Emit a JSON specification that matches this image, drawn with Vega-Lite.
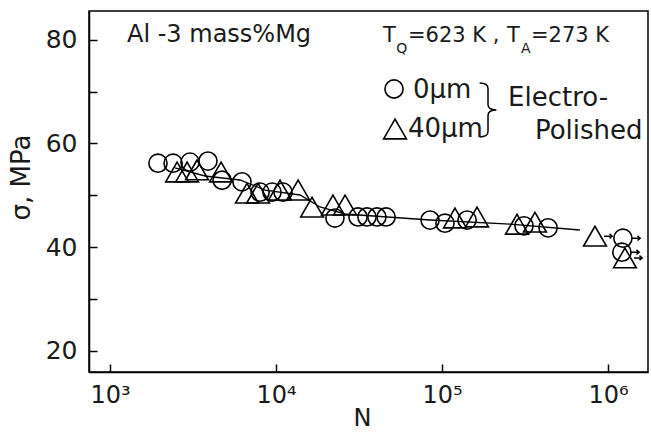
{
  "$schema": "https://vega.github.io/schema/vega-lite/v6.json",
  "width": 559,
  "height": 361,
  "autosize": {"type": "none"},
  "padding": {"left": 89, "top": 11, "right": 3, "bottom": 61},
  "background": "white",
  "config": {
    "font": "DejaVu Sans",
    "view": {"stroke": "black", "strokeWidth": 1.5},
    "axis": {"grid": false, "domainColor": "black", "domainWidth": 1.5, "tickColor": "black", "tickWidth": 1.5, "labelColor": "#1a1a1a", "titleColor": "#1a1a1a", "labelFont": "DejaVu Sans", "titleFont": "DejaVu Sans", "titleFontWeight": "normal"}
  },
  "datasets": {
    "pts": [
      {"N": 1945, "sigma": 56.2, "depth": "0μm", "runout": false},
      {"N": 2399, "sigma": 56.2, "depth": "0μm", "runout": false},
      {"N": 3033, "sigma": 56.4, "depth": "0μm", "runout": false},
      {"N": 3890, "sigma": 56.6, "depth": "0μm", "runout": false},
      {"N": 4732, "sigma": 52.9, "depth": "0μm", "runout": false},
      {"N": 6237, "sigma": 52.6, "depth": "0μm", "runout": false},
      {"N": 8017, "sigma": 50.6, "depth": "0μm", "runout": false},
      {"N": 9462, "sigma": 50.6, "depth": "0μm", "runout": false},
      {"N": 11018, "sigma": 50.6, "depth": "0μm", "runout": false},
      {"N": 22650, "sigma": 45.6, "depth": "0μm", "runout": false},
      {"N": 31190, "sigma": 45.8, "depth": "0μm", "runout": false},
      {"N": 35320, "sigma": 45.8, "depth": "0μm", "runout": false},
      {"N": 40550, "sigma": 45.8, "depth": "0μm", "runout": false},
      {"N": 46030, "sigma": 45.8, "depth": "0μm", "runout": false},
      {"N": 84700, "sigma": 45.2, "depth": "0μm", "runout": false},
      {"N": 104200, "sigma": 44.6, "depth": "0μm", "runout": false},
      {"N": 141600, "sigma": 45.2, "depth": "0μm", "runout": false},
      {"N": 311900, "sigma": 44.1, "depth": "0μm", "runout": false},
      {"N": 435500, "sigma": 43.7, "depth": "0μm", "runout": false},
      {"N": 1230000, "sigma": 41.7, "depth": "0μm", "runout": true},
      {"N": 1213000, "sigma": 39.0, "depth": "0μm", "runout": true},
      {"N": 2535, "sigma": 54.5, "depth": "40μm", "runout": false},
      {"N": 2913, "sigma": 54.5, "depth": "40μm", "runout": false},
      {"N": 3343, "sigma": 54.9, "depth": "40μm", "runout": false},
      {"N": 4665, "sigma": 54.5, "depth": "40μm", "runout": false},
      {"N": 6683, "sigma": 50.4, "depth": "40μm", "runout": false},
      {"N": 7800, "sigma": 50.4, "depth": "40μm", "runout": false},
      {"N": 10570, "sigma": 51.0, "depth": "40μm", "runout": false},
      {"N": 13590, "sigma": 51.0, "depth": "40μm", "runout": false},
      {"N": 16480, "sigma": 47.7, "depth": "40μm", "runout": false},
      {"N": 22030, "sigma": 48.1, "depth": "40μm", "runout": false},
      {"N": 26060, "sigma": 48.1, "depth": "40μm", "runout": false},
      {"N": 119700, "sigma": 45.6, "depth": "40μm", "runout": false},
      {"N": 162500, "sigma": 45.8, "depth": "40μm", "runout": false},
      {"N": 283000, "sigma": 44.4, "depth": "40μm", "runout": false},
      {"N": 363000, "sigma": 44.8, "depth": "40μm", "runout": false},
      {"N": 835000, "sigma": 42.1, "depth": "40μm", "runout": true},
      {"N": 1265000, "sigma": 37.9, "depth": "40μm", "runout": true}
    ],
    "fit": [
      {"N": 2466, "sigma": 55.27},
      {"N": 3733, "sigma": 53.72},
      {"N": 6067, "sigma": 52.95},
      {"N": 8590, "sigma": 51.01},
      {"N": 13960, "sigma": 50.05},
      {"N": 18400, "sigma": 47.73},
      {"N": 26060, "sigma": 46.38},
      {"N": 84700, "sigma": 45.22},
      {"N": 257000, "sigma": 44.44},
      {"N": 677000, "sigma": 43.29}
    ],
    "key": [
      {"N": 51400, "sigma": 70.53, "depth": "0μm"},
      {"N": 52120, "sigma": 62.8, "depth": "40μm"}
    ],
    "brace": [{"N": 189300, "sigma": 66.47}],
    "notes": [
      {"N": 1265, "sigma": 80.9, "text": "Al -3 mass%Mg"}
    ],
    "tline": [
      {"N": 44150, "sigma": 80.77, "text": "T"},
      {"N": 62370, "sigma": 80.77, "text": "=623 K ,"},
      {"N": 246600, "sigma": 80.77, "text": "T"},
      {"N": 343600, "sigma": 80.77, "text": "=273 K"}
    ],
    "subs": [
      {"N": 53000, "sigma": 78.3, "text": "Q"},
      {"N": 299000, "sigma": 78.3, "text": "A"}
    ],
    "keytext": [
      {"N": 66840, "sigma": 70.4, "text": "0μm"},
      {"N": 62370, "sigma": 62.8, "text": "40μm"},
      {"N": 250000, "sigma": 68.7, "text": "Electro-"},
      {"N": 363100, "sigma": 62.4, "text": "Polished"}
    ]
  },
  "encoding": {
    "x": {
      "field": "N", "type": "quantitative",
      "scale": {"type": "log", "domain": [747, 1742000], "nice": false},
      "axis": {
        "values": [1000, 10000, 100000, 1000000],
        "labelExpr": "datum.value == 1000 ? '10³' : datum.value == 10000 ? '10⁴' : datum.value == 100000 ? '10⁵' : '10⁶'",
        "tickSize": -8, "labelPadding": 19, "labelFontSize": 24, "labelFlush": false,
        "title": "N", "titleFontSize": 24, "titleX": 273, "titleY": 46, "titleBaseline": "middle", "titleAlign": "center"
      }
    },
    "y": {
      "field": "sigma", "type": "quantitative",
      "scale": {"domain": [15.85, 85.6], "nice": false, "zero": false},
      "axis": {
        "values": [20, 30, 40, 50, 60, 70, 80],
        "labelExpr": "datum.value % 20 === 0 ? datum.label : ''",
        "tickSize": -8, "labelPadding": 20, "labelFontSize": 25,
        "title": "σ, MPa", "titleFontSize": 26, "titleX": -68, "titleY": 166, "titleAngle": -90, "titleAlign": "center", "titleBaseline": "middle"
      }
    }
  },
  "layer": [
    {
      "data": {"name": "fit"},
      "mark": {"type": "line", "color": "black", "strokeWidth": 1.3},
      "encoding": {}
    },
    {
      "data": {"name": "pts"},
      "mark": {"type": "point", "filled": false, "color": "black", "strokeWidth": 1.6, "opacity": 1},
      "encoding": {
        "shape": {"field": "depth", "type": "nominal", "scale": {"domain": ["0μm", "40μm"], "range": ["circle", "triangle-up"]}, "legend": null},
        "size": {"field": "depth", "type": "nominal", "scale": {"domain": ["0μm", "40μm"], "range": [330, 520]}, "legend": null}
      }
    },
    {
      "data": {"name": "pts"},
      "transform": [{"filter": "datum.runout"}],
      "mark": {"type": "point", "shape": "M1 0L1.9 0M1.6 -0.25L1.9 0L1.6 0.25", "size": 330, "filled": false, "color": "black", "strokeWidth": 1.5, "opacity": 1},
      "encoding": {}
    },
    {
      "data": {"name": "key"},
      "mark": {"type": "point", "filled": false, "color": "black", "strokeWidth": 1.6, "opacity": 1},
      "encoding": {
        "shape": {"field": "depth", "type": "nominal", "scale": {"domain": ["0μm", "40μm"], "range": ["circle", "triangle-up"]}, "legend": null},
        "size": {"field": "depth", "type": "nominal", "scale": {"domain": ["0μm", "40μm"], "range": [330, 520]}, "legend": null}
      }
    },
    {
      "data": {"name": "brace"},
      "mark": {"type": "point", "shape": "M-0.31 -1Q0 -1 0 -0.8L0 -0.2Q0 0 0.31 0Q0 0 0 0.2L0 0.8Q0 1 -0.31 1", "size": 2916, "filled": false, "color": "black", "strokeWidth": 1.5, "opacity": 1},
      "encoding": {}
    },
    {
      "data": {"name": "notes"},
      "mark": {"type": "text", "align": "left", "baseline": "middle", "fontSize": 24, "color": "#1a1a1a", "font": "DejaVu Sans"},
      "encoding": {"text": {"field": "text"}}
    },
    {
      "data": {"name": "tline"},
      "mark": {"type": "text", "align": "left", "baseline": "middle", "fontSize": 21, "color": "#1a1a1a", "font": "DejaVu Sans"},
      "encoding": {"text": {"field": "text"}}
    },
    {
      "data": {"name": "subs"},
      "mark": {"type": "text", "align": "left", "baseline": "middle", "fontSize": 14, "color": "#1a1a1a", "font": "DejaVu Sans"},
      "encoding": {"text": {"field": "text"}}
    },
    {
      "data": {"name": "keytext"},
      "mark": {"type": "text", "align": "left", "baseline": "middle", "fontSize": 26, "color": "#1a1a1a", "font": "DejaVu Sans"},
      "encoding": {"text": {"field": "text"}}
    }
  ]
}
